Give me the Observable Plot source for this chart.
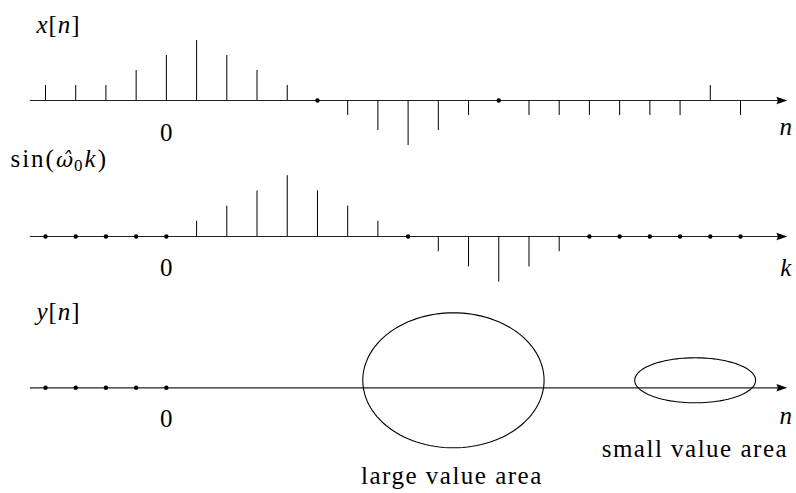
<!DOCTYPE html>
<html><head><meta charset="utf-8">
<script src="https://cdn.jsdelivr.net/npm/d3@7"></script>
<script src="https://cdn.jsdelivr.net/npm/@observablehq/plot@0.6"></script>
<style>
html,body{margin:0;padding:0;background:#fff;}
#chart{width:796px;}
#chart svg{display:block;overflow:visible;background:transparent;}
#chart svg text{font-family:"Liberation Serif","Times New Roman",serif !important;}
#chart svg text tspan.dv{font-family:"DejaVu Serif",serif !important;}
</style></head><body><div id="chart"></div>
<script>
// ---- data ----
const n = [-4,-3,-2,-1,0,1,2,3,4,5,6,7,8,9,10,11,12,13,14,15,16,17,18,19];
const xValues   = [1,1,1,2,3,4,3,2,1,0,-1,-2,-3,-2,-1,0,-1,-1,-1,-1,-1,-1,1,-1];
const sinValues = [0,0,0,0,0,1,2,3,4,3,2,1,0,-1,-2,-3,-2,-1,0,0,0,0,0,0];
const yIndices  = [-4,-3,-2,-1,0];
const yValues   = [0,0,0,0,0];
const tickIndex = [0];
const tickText  = ["0"];
const areaLabels      = ["large value area", "small value area"];
const areaCenterN     = [9.5, 17.5];
const areaHalfWidthN  = [3, 2];
const areaCenterV     = [0.5, 0.5];
const areaHalfHeightV = [4.5, 1.5];

// ---- drawing ----
const FONT = "Liberation Serif";
const FS = 25;
const axisStart = -4.5, axisEnd = 20.55;
const arrowHead = {draw(ctx) {
  ctx.moveTo(0, 0); ctx.lineTo(-11, -3.8);
  ctx.quadraticCurveTo(-8.5, 0, -11, 3.8); ctx.closePath();
}};

function textMark(label, x, y, anchor = "middle", extra = {}) {
  return Plot.text([label], {x: () => x, y: () => y, text: d => d, textAnchor: anchor,
    lineAnchor: "bottom", fontFamily: FONT, fontSize: FS, fill: "black", ...extra});
}

function panel({height, base, unit, idx, vals, yLabel, yLabelX, yLabelY, axisLabel, tickY, axisLabelY, extra = []}) {
  const table = idx.map((k, i) => ({n: k, v: vals[i]}));
  const ticks = tickIndex.map((k, i) => ({n: k, t: tickText[i]}));
  return Plot.plot({
    width: 796, height, margin: 0,
    x: {domain: [-4, 19], range: [45, 740], axis: null},
    y: {domain: [0, 1], range: [base, base - unit], axis: null},
    marks: [
      Plot.ruleY([0], {x1: axisStart, x2: axisEnd - 0.2, stroke: "#222", strokeWidth: 1.2}),
      Plot.ruleX(table.filter(d => d.v !== 0), {x: "n", y1: 0, y2: "v", stroke: "black", strokeWidth: 1}),
      Plot.dot(table.filter(d => d.v === 0), {x: "n", y: "v", r: 2.2, fill: "black"}),
      Plot.dot([0], {x: () => axisEnd, y: () => 0, symbol: arrowHead, r: 4, fill: "black"}),
      Plot.text(ticks, {x: "n", y: () => tickY, text: "t", lineAnchor: "bottom", fontFamily: FONT, fontSize: FS, fill: "black"}),
      textMark(yLabel, yLabelX, yLabelY, "start"),
      textMark(axisLabel, 20.5, axisLabelY, "middle", {fontStyle: "italic"}),
      ...extra
    ]
  });
}

const ellipsePts = [];
areaLabels.forEach((lab, j) => {
  for (let a = 0; a <= 120; a++) {
    const t = a / 120 * 2 * Math.PI;
    ellipsePts.push({g: j, x: areaCenterN[j] + areaHalfWidthN[j] * Math.cos(t), v: areaCenterV[j] + areaHalfHeightV[j] * Math.sin(t)});
  }
});

const SIN_LABEL = "sin(ω\u03020k)";
const p1 = panel({height: 145, base: 100, unit: 15, idx: n, vals: xValues,
  yLabel: "x[n]", yLabelX: -4.3, yLabelY: 4.53, axisLabel: "n", tickY: -2.67, axisLabelY: -2.33});
const p2 = panel({height: 145, base: 91, unit: 15.2, idx: n, vals: sinValues,
  yLabel: SIN_LABEL, yLabelX: -5.16, yLabelY: 4.56, axisLabel: "k", tickY: -2.57, axisLabelY: -2.57});
const p3 = panel({height: 203, base: 97.3, unit: 15, idx: yIndices, vals: yValues,
  yLabel: "y[n]", yLabelX: -4.3, yLabelY: 4.49, axisLabel: "n", tickY: -2.63, axisLabelY: -2.38,
  extra: [
    Plot.line(ellipsePts, {x: "x", y: "v", z: "g", curve: "linear-closed", stroke: "black", strokeWidth: 1.1}),
    textMark(areaLabels[0], 9.45, -6.4),
    textMark(areaLabels[1], 17.49, -4.63)
  ]});

const chart = document.getElementById("chart");
[p1, p2, p3].forEach(p => chart.appendChild(p));

// math typesetting: italic variables, hat, subscript; letter spacing to match the wider original face
const MATH = {
  "x[n]": [{t: "x", i: 1}, {t: "["}, {t: "n", i: 1}, {t: "]"}],
  "y[n]": [{t: "y", i: 1}, {t: "["}, {t: "n", i: 1}, {t: "]"}],
  [SIN_LABEL]: [{t: "sin(", ls: 2}, {t: "ω\u0302", i: 1, ls: 0, cls: "dv", fs: 21}, {t: "0", dx: 1, dy: 4, fs: 17, ls: 2}, {t: "k", i: 1, dy: -4, ls: 2}, {t: ")"}]
};
const SPACING = {"x[n]": 1, "y[n]": 1, "large value area": 1.5, "small value area": 1.5};
chart.querySelectorAll("text").forEach(t => {
  const key = t.textContent;
  if (SPACING[key]) t.setAttribute("letter-spacing", SPACING[key]);
  const spec = MATH[key];
  if (!spec) return;
  while (t.firstChild) t.removeChild(t.firstChild);
  for (const p of spec) {
    const ts = document.createElementNS("http://www.w3.org/2000/svg", "tspan");
    ts.textContent = p.t;
    if (p.i) ts.setAttribute("font-style", "italic");
    if (p.dx) ts.setAttribute("dx", p.dx);
    if (p.dy) ts.setAttribute("dy", p.dy);
    if (p.fs) ts.setAttribute("font-size", p.fs);
    if (p.cls) ts.setAttribute("class", p.cls);
    if (p.ls !== undefined) ts.setAttribute("letter-spacing", p.ls);
    t.appendChild(ts);
  }
});
</script></body></html>
